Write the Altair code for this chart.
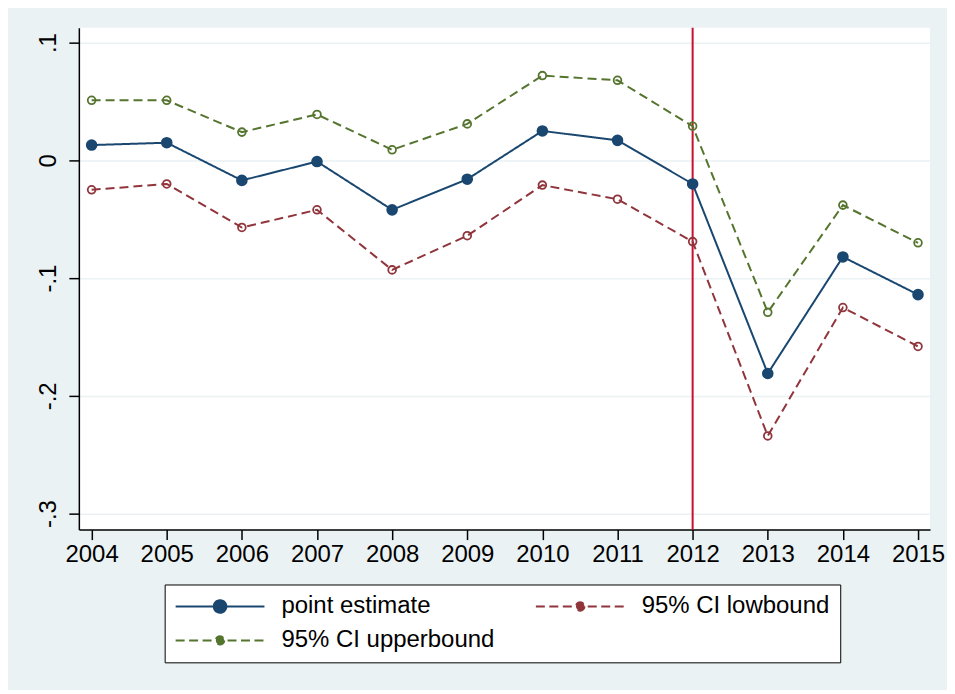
import altair as alt
import pandas as pd

years = list(range(2004, 2016))
point_estimate = [0.013, 0.015, -0.017, -0.001, -0.042, -0.016, 0.025, 0.017, -0.020, -0.181, -0.082, -0.114]
ci_low = [-0.025, -0.020, -0.057, -0.042, -0.093, -0.064, -0.021, -0.033, -0.069, -0.234, -0.125, -0.158]
ci_up = [0.051, 0.051, 0.024, 0.039, 0.009, 0.031, 0.072, 0.068, 0.029, -0.129, -0.038, -0.070]
series_names = ["point estimate", "95% CI lowbound", "95% CI upperbound"]
series_colors = ["#1a476f", "#90353b", "#55752f"]
y_ticks = [-0.3, -0.2, -0.1, 0.0, 0.1]
x_ticks = years
event_year = [2012]

FONT = "Liberation Sans"
FS = 24
BG = "#eaf2f3"

rows = []
for name, vals in zip(series_names, [point_estimate, ci_low, ci_up]):
    for yr, v in zip(years, vals):
        rows.append({"year": yr, "series": name, "value": v})
df = pd.DataFrame(rows)

color_scale = alt.Scale(domain=series_names, range=series_colors)
x_enc = alt.X("year:Q", scale=alt.Scale(domain=[2003.83, 2015.16], nice=False, zero=False),
              axis=alt.Axis(values=x_ticks, format="d", title=None, grid=False,
                            labelFont=FONT, labelFontSize=FS, labelColor="black",
                            tickSize=10, tickColor="black", tickWidth=1.5,
                            domainColor="black", domainWidth=1.5, labelPadding=3,
                            labelFlush=False, labelOverlap=False))
y_enc = alt.Y("value:Q", scale=alt.Scale(domain=[-0.3136, 0.1127], nice=False, zero=False),
              axis=alt.Axis(values=y_ticks, title=None, grid=True, gridColor=BG, gridWidth=1.5,
                            labelExpr="datum.value == 0 ? '0' : (datum.value < 0 ? '-' : '') + '.' + round(abs(datum.value) * 10)",
                            labelAngle=270, labelAlign="center", labelBaseline="bottom",
                            labelFont=FONT, labelFontSize=FS, labelColor="black",
                            tickSize=10, tickColor="black", tickWidth=1.5,
                            domainColor="black", domainWidth=1.5, labelPadding=8,
                            labelFlush=False, labelOverlap=False))

solid_path = "M-4.45,0L4.45,0M0.63,0A0.63,0.63,0,1,1,-0.63,0A0.63,0.63,0,1,1,0.63,0Z"
dash_path = ("M-4.45,0L-3.45,0M-3.1,0L-2.1,0M-1.75,0L-0.75,0M-0.4,0L0.4,0"
             "M0.75,0L1.75,0M2.1,0L3.1,0M3.45,0L4.45,0"
             "M0.42,0A0.42,0.42,0,1,1,-0.42,0A0.42,0.42,0,1,1,0.42,0")

legend = alt.Legend(
    title=None, orient="none", legendX=86, legendY=558, direction="horizontal", columns=2,
    fillColor="white", strokeColor="black", padding=10, columnPadding=37, rowPadding=10,
    labelFont=FONT, labelFontSize=FS, labelColor="black", labelLimit=500,
    symbolSize=400, symbolStrokeWidth=2, symbolOffset=33.5, labelOffset=49.5,
    symbolType=alt.ExprRef(expr=f"datum.value === 'point estimate' ? '{solid_path}' : '{dash_path}'"),
    symbolFillColor=alt.ExprRef(expr="datum.value === 'point estimate' ? '#1a476f' : 'transparent'"),
)

lines = alt.Chart(df).mark_line(strokeWidth=2).encode(
    x=x_enc, y=y_enc,
    color=alt.Color("series:N", scale=color_scale, legend=legend),
    strokeDash=alt.StrokeDash("series:N", scale=alt.Scale(domain=series_names, range=[[1, 0], [9, 5], [9, 5]]), legend=None),
)

filled_pts = alt.Chart(df[df["series"] == "point estimate"]).mark_point(filled=True, size=135, opacity=1).encode(
    x="year:Q", y="value:Q",
    color=alt.Color("series:N", scale=color_scale, legend=None),
)

hollow_pts = alt.Chart(df[df["series"] != "point estimate"]).mark_point(filled=False, size=60, strokeWidth=1.8, opacity=1).encode(
    x="year:Q", y="value:Q",
    color=alt.Color("series:N", scale=color_scale, legend=None),
)

vline = alt.Chart(pd.DataFrame({"year": event_year})).mark_rule(color="#c8102e", strokeWidth=2).encode(
    x="year:Q"
)

chart = alt.layer(vline, lines, hollow_pts, filled_pts).properties(
    width=853, height=503,
    autosize=alt.AutoSizeParams(type="none"),
    padding={"left": 71, "top": 19, "right": 17, "bottom": 160},
    background=BG,
).configure_view(stroke=None, fill="white")

chart.save("out.html", embed_options={"renderer": "svg", "actions": False})
